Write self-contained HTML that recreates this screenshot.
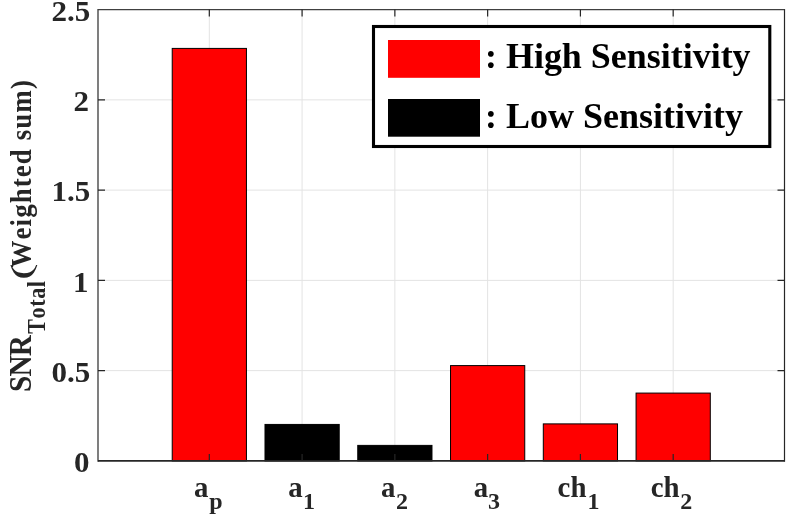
<!DOCTYPE html>
<html><head><meta charset="utf-8">
<style>
html,body{margin:0;padding:0;background:#fff;}
svg{display:block;}
text{font-family:"Liberation Serif",serif;font-weight:bold;fill:#262626;font-kerning:none;font-variant-ligatures:none;}
.leg{fill:#000;}
</style></head><body>
<svg width="793" height="515" viewBox="0 0 793 515">
<rect width="793" height="515" fill="#fff"/>
<!-- grid -->
<g stroke="#e3e3e3" stroke-width="1">
<line x1="209.32" y1="9.6" x2="209.32" y2="460.9"/>
<line x1="302.09" y1="9.6" x2="302.09" y2="460.9"/>
<line x1="394.86" y1="9.6" x2="394.86" y2="460.9"/>
<line x1="487.64" y1="9.6" x2="487.64" y2="460.9"/>
<line x1="580.41" y1="9.6" x2="580.41" y2="460.9"/>
<line x1="673.18" y1="9.6" x2="673.18" y2="460.9"/>
<line x1="98.0" y1="370.64" x2="784.5" y2="370.64"/>
<line x1="98.0" y1="280.38" x2="784.5" y2="280.38"/>
<line x1="98.0" y1="190.12" x2="784.5" y2="190.12"/>
<line x1="98.0" y1="99.86" x2="784.5" y2="99.86"/>
</g>
<!-- bars -->
<g stroke="#000" stroke-width="1">
<rect x="172.22" y="48.41" width="74.22" height="412.49" fill="#ff0000"/>
<rect x="264.99" y="424.43" width="74.22" height="36.47" fill="#000"/>
<rect x="357.76" y="445.39" width="74.22" height="15.51" fill="#000"/>
<rect x="450.53" y="365.59" width="74.22" height="95.31" fill="#ff0000"/>
<rect x="543.30" y="423.89" width="74.22" height="37.01" fill="#ff0000"/>
<rect x="636.07" y="393.08" width="74.22" height="67.82" fill="#ff0000"/>
</g>
<!-- axes -->
<g stroke="#262626" fill="none">
<line x1="98.0" y1="9.0" x2="98.0" y2="461.80" stroke-width="1.3" stroke="#3a3a3a"/>
<line x1="784.5" y1="9.0" x2="784.5" y2="461.80" stroke-width="1.2"/>
<line x1="98.0" y1="9.65" x2="784.5" y2="9.65" stroke-width="1.25" stroke="#404040"/>
<line x1="98.0" y1="460.9" x2="784.5" y2="460.9" stroke-width="1.9"/>
<path d="M209.32 460.9v-7M209.32 9.6v7M302.09 460.9v-7M302.09 9.6v7M394.86 460.9v-7M394.86 9.6v7M487.64 460.9v-7M487.64 9.6v7M580.41 460.9v-7M580.41 9.6v7M673.18 460.9v-7M673.18 9.6v7M98.0 370.64h7M784.5 370.64h-7M98.0 280.38h7M784.5 280.38h-7M98.0 190.12h7M784.5 190.12h-7M98.0 99.86h7M784.5 99.86h-7" stroke-width="1.2"/>
</g>
<!-- y tick labels -->
<g font-size="30.3" text-anchor="end">
<text x="90.3" y="20.90" textLength="38.8" lengthAdjust="spacingAndGlyphs">2.5</text>
<text x="89.1" y="111.16" textLength="15.5" lengthAdjust="spacingAndGlyphs">2</text>
<text x="90.3" y="201.42" textLength="38.8" lengthAdjust="spacingAndGlyphs">1.5</text>
<text x="88.4" y="291.68" textLength="15.5" lengthAdjust="spacingAndGlyphs">1</text>
<text x="90.3" y="381.94" textLength="38.8" lengthAdjust="spacingAndGlyphs">0.5</text>
<text x="89.4" y="472.20" textLength="15.5" lengthAdjust="spacingAndGlyphs">0</text>
</g>
<!-- x tick labels -->
<g font-size="28.8">
<text x="194.12" y="496.7">a<tspan font-size="24" x="209.32" y="508.8">p</tspan></text>
<text x="288.29" y="496.7">a<tspan font-size="24" x="302.99" y="508.8">1</tspan></text>
<text x="381.06" y="496.7">a<tspan font-size="24" x="396.06" y="508.8">2</tspan></text>
<text x="473.84" y="496.7">a<tspan font-size="24" x="487.94" y="508.8">3</tspan></text>
<text x="557.61" y="496.7">ch<tspan font-size="24" x="587.61" y="508.8">1</tspan></text>
<text x="650.68" y="496.7">ch<tspan font-size="24" x="680.18" y="508.8">2</tspan></text>
</g>
<!-- y label -->
<text transform="translate(31,392) rotate(-90) scale(0.95,1)" font-size="30.6" textLength="59.68" lengthAdjust="spacing">SNR</text>
<text transform="translate(45.4,333.8) rotate(-90) scale(0.9,1)" font-size="24.5" textLength="58.67" lengthAdjust="spacing">Total</text>
<text transform="translate(31,280) rotate(-90)" font-size="30" font-weight="normal" style="font-weight:normal" textLength="16.6" lengthAdjust="spacingAndGlyphs">(</text>
<text transform="translate(31,267.5) rotate(-90) scale(0.9,1)" font-size="30" textLength="208.22" lengthAdjust="spacing">Weighted sum)</text>
<!-- legend -->
<rect x="373.5" y="26.5" width="396.3" height="120" fill="#fff" stroke="#000" stroke-width="3.1"/>
<rect x="388" y="40" width="92" height="37.8" fill="#ff0000"/>
<rect x="388" y="99" width="92" height="37.7" fill="#000"/>
<text class="leg" x="485" y="67.6" font-size="35.4" textLength="265.6" lengthAdjust="spacingAndGlyphs">: High Sensitivity</text>
<text class="leg" x="485" y="127.6" font-size="35.4" textLength="258" lengthAdjust="spacingAndGlyphs">: Low Sensitivity</text>
</svg>
</body></html>
